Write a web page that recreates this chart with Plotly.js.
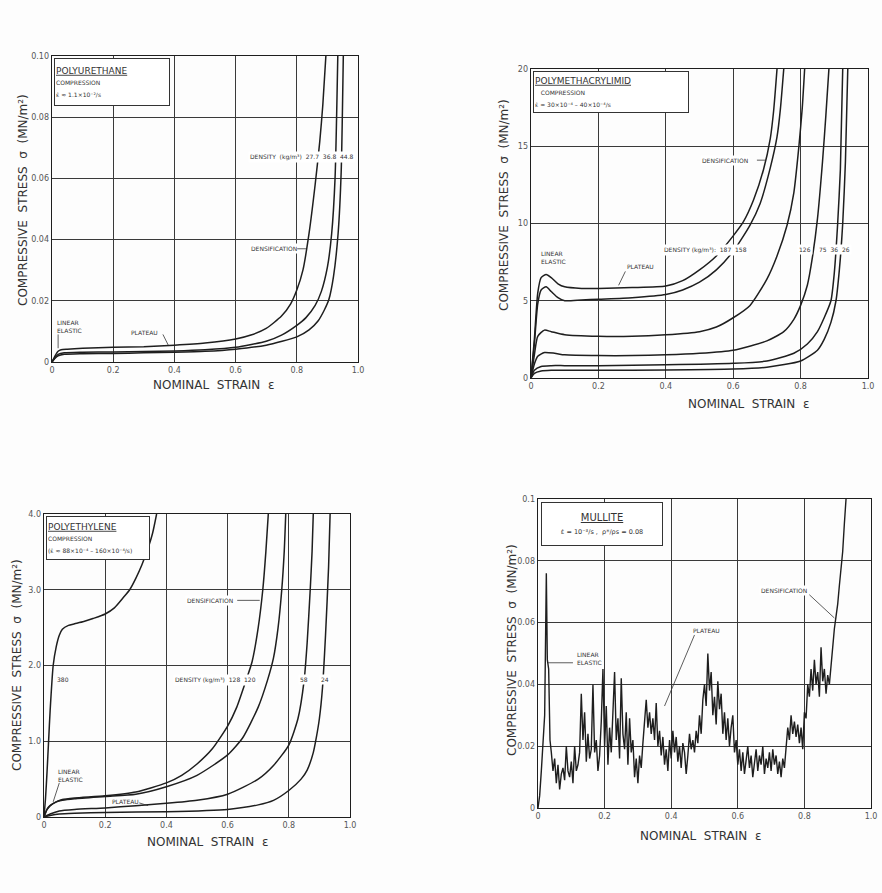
<!DOCTYPE html>
<html>
<head>
<meta charset="utf-8">
<script src="https://cdn.plot.ly/plotly-3.0.1.min.js"></script>
<style>html,body{margin:0;padding:0;background:#fff;}#chart{width:882px;height:893px;}</style>
</head>
<body>
<div id="chart"></div>
<script>
// ---------- Panel 1: Polyurethane (stress in MN/m^2) ----------
const puA_x = [0, 0.01, 0.02, 0.03, 0.05, 0.1, 0.2, 0.3, 0.4, 0.5, 0.6, 0.65, 0.7, 0.75, 0.78, 0.8, 0.82, 0.84, 0.86, 0.875, 0.885, 0.895];
const puA_y = [0, 0.002, 0.0035, 0.004, 0.0042, 0.0045, 0.0048, 0.005, 0.0055, 0.0062, 0.0075, 0.0088, 0.011, 0.015, 0.019, 0.0235, 0.03, 0.042, 0.058, 0.072, 0.084, 0.1];
const puB_x = [0, 0.01, 0.02, 0.04, 0.1, 0.2, 0.3, 0.4, 0.5, 0.6, 0.7, 0.75, 0.8, 0.83, 0.86, 0.88, 0.9, 0.914, 0.925, 0.934];
const puB_y = [0, 0.0015, 0.0025, 0.003, 0.0032, 0.0033, 0.0034, 0.0036, 0.004, 0.0048, 0.0068, 0.0088, 0.012, 0.0145, 0.0185, 0.023, 0.031, 0.042, 0.06, 0.1];
const puC_x = [0, 0.01, 0.02, 0.04, 0.1, 0.2, 0.3, 0.4, 0.5, 0.6, 0.7, 0.8, 0.84, 0.87, 0.89, 0.905, 0.92, 0.935, 0.945, 0.952];
const puC_y = [0, 0.0012, 0.002, 0.0025, 0.0027, 0.0028, 0.003, 0.0032, 0.0035, 0.0042, 0.0055, 0.0082, 0.0105, 0.0135, 0.017, 0.0205, 0.028, 0.042, 0.062, 0.1];

// ---------- Panel 2: Polymethacrylimid ----------
const pm1_x = [0, 0.01, 0.02, 0.03, 0.045, 0.06, 0.08, 0.1, 0.15, 0.2, 0.3, 0.4, 0.45, 0.5, 0.55, 0.6, 0.63, 0.66, 0.69, 0.71, 0.72, 0.73];
const pm1_y = [0, 2.5, 5.5, 6.5, 6.7, 6.5, 6.1, 5.9, 5.8, 5.8, 5.85, 5.95, 6.3, 7.0, 7.9, 9.2, 10.1, 11.5, 13.5, 15.5, 17.3, 20];
const pm2_x = [0, 0.01, 0.02, 0.03, 0.045, 0.06, 0.08, 0.1, 0.15, 0.2, 0.3, 0.4, 0.45, 0.5, 0.55, 0.6, 0.65, 0.68, 0.71, 0.73, 0.74, 0.75];
const pm2_y = [0, 2.2, 4.8, 5.7, 5.9, 5.6, 5.2, 5.0, 5.05, 5.1, 5.2, 5.4, 5.7, 6.2, 7.0, 8.2, 9.9, 11.3, 13.6, 15.6, 17.4, 20];
const pm3_x = [0, 0.01, 0.02, 0.04, 0.06, 0.1, 0.2, 0.3, 0.4, 0.5, 0.55, 0.6, 0.65, 0.7, 0.73, 0.76, 0.78, 0.795, 0.805, 0.812];
const pm3_y = [0, 1.5, 2.7, 3.1, 3.0, 2.8, 2.7, 2.7, 2.8, 3.0, 3.3, 3.9, 4.7, 6.4, 7.9, 9.9, 12.0, 15.0, 17.5, 20];
const pm4_x = [0, 0.01, 0.02, 0.04, 0.07, 0.1, 0.2, 0.3, 0.4, 0.5, 0.6, 0.7, 0.75, 0.78, 0.8, 0.82, 0.835, 0.85, 0.865, 0.875, 0.884];
const pm4_y = [0, 0.9, 1.4, 1.65, 1.6, 1.5, 1.45, 1.45, 1.5, 1.6, 1.8, 2.4, 3.0, 3.8, 4.7, 6.0, 7.8, 10.3, 14.0, 17.0, 20];
const pm5_x = [0, 0.01, 0.03, 0.06, 0.1, 0.2, 0.4, 0.6, 0.7, 0.78, 0.82, 0.85, 0.87, 0.89, 0.9, 0.91, 0.918, 0.925];
const pm5_y = [0, 0.5, 0.75, 0.8, 0.8, 0.8, 0.85, 0.95, 1.1, 1.6, 2.2, 3.0, 3.9, 5.0, 6.8, 10.0, 13.5, 20];
const pm6_x = [0, 0.01, 0.03, 0.06, 0.1, 0.2, 0.4, 0.6, 0.7, 0.8, 0.85, 0.87, 0.89, 0.905, 0.915, 0.925, 0.933, 0.94];
const pm6_y = [0, 0.3, 0.45, 0.5, 0.5, 0.5, 0.52, 0.58, 0.7, 1.1, 1.8, 2.5, 3.6, 5.0, 7.0, 10.0, 14.0, 20];

// ---------- Panel 3: Polyethylene ----------
const peS_x = [0, 0.005, 0.01, 0.015, 0.02, 0.03, 0.04, 0.05, 0.06, 0.08, 0.1, 0.13, 0.16, 0.2, 0.23, 0.26, 0.28, 0.3, 0.32, 0.34, 0.355, 0.368];
const peS_y = [0, 0.25, 0.6, 1.0, 1.4, 2.0, 2.25, 2.4, 2.48, 2.53, 2.55, 2.58, 2.62, 2.68, 2.76, 2.9, 3.0, 3.15, 3.33, 3.55, 3.75, 4.0];
const pe1_x = [0, 0.01, 0.02, 0.04, 0.06, 0.1, 0.2, 0.3, 0.4, 0.45, 0.5, 0.55, 0.6, 0.63, 0.66, 0.68, 0.7, 0.715, 0.725, 0.733];
const pe1_y = [0, 0.1, 0.15, 0.2, 0.23, 0.25, 0.28, 0.33, 0.45, 0.55, 0.7, 0.9, 1.2, 1.45, 1.8, 2.05, 2.5, 3.0, 3.5, 4.0];
const pe2_x = [0, 0.01, 0.02, 0.04, 0.06, 0.1, 0.2, 0.3, 0.4, 0.5, 0.6, 0.65, 0.7, 0.73, 0.75, 0.765, 0.777, 0.785, 0.79];
const pe2_y = [0, 0.1, 0.15, 0.2, 0.22, 0.24, 0.27, 0.3, 0.4, 0.55, 0.82, 1.05, 1.45, 1.8, 2.1, 2.5, 3.0, 3.5, 4.0];
const pe3_x = [0, 0.02, 0.05, 0.1, 0.2, 0.3, 0.4, 0.5, 0.6, 0.7, 0.75, 0.8, 0.83, 0.85, 0.86, 0.87, 0.876, 0.88];
const pe3_y = [0, 0.04, 0.08, 0.1, 0.12, 0.15, 0.18, 0.22, 0.3, 0.5, 0.68, 0.95, 1.3, 1.8, 2.3, 3.0, 3.5, 4.0];
const pe4_x = [0, 0.02, 0.05, 0.1, 0.2, 0.4, 0.6, 0.7, 0.75, 0.8, 0.84, 0.86, 0.88, 0.89, 0.9, 0.91, 0.92, 0.93, 0.935];
const pe4_y = [0, 0.02, 0.04, 0.05, 0.06, 0.07, 0.1, 0.16, 0.22, 0.35, 0.5, 0.62, 0.85, 1.05, 1.3, 1.7, 2.4, 3.3, 4.0];

// ---------- Panel 4: Mullite ----------
const mu_x = [0, 0.005, 0.01, 0.015, 0.02, 0.025, 0.028, 0.032, 0.036, 0.04, 0.045, 0.05, 0.055, 0.06, 0.065, 0.07, 0.075, 0.08, 0.085, 0.09, 0.095,
  0.1, 0.105, 0.11, 0.115, 0.12, 0.125, 0.13, 0.135, 0.14, 0.145, 0.15, 0.155, 0.16, 0.165, 0.17, 0.175, 0.18, 0.185, 0.19, 0.195,
  0.2, 0.205, 0.21, 0.215, 0.22, 0.225, 0.23, 0.235, 0.24, 0.245, 0.25, 0.255, 0.26, 0.265, 0.27, 0.275, 0.28, 0.285, 0.29, 0.295,
  0.3, 0.305, 0.31, 0.315, 0.32, 0.325, 0.33, 0.335, 0.34, 0.345, 0.35, 0.355, 0.36, 0.365, 0.37, 0.375, 0.38, 0.385, 0.39, 0.395,
  0.4, 0.405, 0.41, 0.415, 0.42, 0.425, 0.43, 0.435, 0.44, 0.445, 0.45, 0.455, 0.46, 0.465, 0.47, 0.475, 0.48, 0.485, 0.49, 0.495,
  0.5, 0.505, 0.51, 0.515, 0.52, 0.525, 0.53, 0.535, 0.54, 0.545, 0.55, 0.555, 0.56, 0.565, 0.57, 0.575, 0.58, 0.585, 0.59, 0.595,
  0.6, 0.605, 0.61, 0.615, 0.62, 0.625, 0.63, 0.635, 0.64, 0.645, 0.65, 0.655, 0.66, 0.665, 0.67, 0.675, 0.68, 0.685, 0.69, 0.695,
  0.7, 0.705, 0.71, 0.715, 0.72, 0.725, 0.73, 0.735, 0.74, 0.745, 0.75, 0.755, 0.76, 0.765, 0.77, 0.775, 0.78, 0.785, 0.79, 0.795,
  0.8, 0.805, 0.81, 0.815, 0.82, 0.825, 0.83, 0.835, 0.84, 0.845, 0.85, 0.855, 0.86, 0.865, 0.87, 0.875, 0.88, 0.885, 0.89, 0.895,
  0.9, 0.905, 0.91, 0.915, 0.92, 0.925];
const mu_y = [0, 0.004, 0.012, 0.020, 0.030, 0.076, 0.048, 0.045, 0.022, 0.018, 0.012, 0.016, 0.008, 0.014, 0.006, 0.011, 0.013, 0.009, 0.020, 0.012, 0.010,
  0.015, 0.008, 0.020, 0.012, 0.014, 0.018, 0.037, 0.022, 0.031, 0.015, 0.024, 0.016, 0.019, 0.040, 0.018, 0.022, 0.012, 0.017, 0.028, 0.045,
  0.020, 0.033, 0.014, 0.026, 0.018, 0.030, 0.044, 0.022, 0.029, 0.016, 0.042, 0.024, 0.019, 0.031, 0.014, 0.029, 0.018, 0.022, 0.010, 0.016,
  0.008, 0.017, 0.013, 0.021, 0.028, 0.035, 0.026, 0.031, 0.024, 0.029, 0.022, 0.034, 0.020, 0.025, 0.017, 0.023, 0.014, 0.019, 0.012, 0.022,
  0.016, 0.025, 0.018, 0.023, 0.015, 0.020, 0.013, 0.021, 0.018, 0.011, 0.017, 0.024, 0.019, 0.022, 0.018, 0.025, 0.021, 0.030, 0.024, 0.035,
  0.040, 0.033, 0.050, 0.038, 0.044, 0.030, 0.036, 0.027, 0.041, 0.032, 0.037, 0.024, 0.031, 0.022, 0.029, 0.020, 0.026, 0.030, 0.018, 0.022,
  0.014, 0.019, 0.012, 0.018, 0.011, 0.016, 0.020, 0.013, 0.017, 0.010, 0.015, 0.019, 0.012, 0.017, 0.014, 0.020, 0.011, 0.016, 0.013, 0.018,
  0.012, 0.019, 0.014, 0.017, 0.011, 0.015, 0.010, 0.016, 0.013, 0.020, 0.026, 0.022, 0.030, 0.024, 0.028, 0.023, 0.027, 0.021, 0.026, 0.019,
  0.031, 0.029, 0.040, 0.036, 0.045, 0.038, 0.048, 0.040, 0.044, 0.036, 0.052, 0.041, 0.045, 0.037, 0.043, 0.040, 0.047, 0.052, 0.058, 0.062,
  0.066, 0.072, 0.078, 0.083, 0.092, 0.100];

// ---------- Tick labels ----------
const strainTicks = [0, 0.2, 0.4, 0.6, 0.8, 1.0];
const strainLabels = ["0", "0.2", "0.4", "0.6", "0.8", "1.0"];
const puTicks = [0, 0.02, 0.04, 0.06, 0.08, 0.10];
const puLabels = ["0", "0.02", "0.04", "0.06", "0.08", "0.10"];
const pmTicks = [0, 5, 10, 15, 20];
const pmLabels = ["0", "5", "10", "15", "20"];
const peTicks = [0, 1, 2, 3, 4];
const peLabels = ["0", "1.0", "2.0", "3.0", "4.0"];
const muTicks = [0, 0.02, 0.04, 0.06, 0.08, 0.1];
const muLabels = ["0", "0.02", "0.04", "0.06", "0.08", "0.1"];

const INK = '#1e1e1e';
const FONT = 'DejaVu Sans, Liberation Sans, sans-serif';

function line(x, y, ax, w) {
  return {x: x, y: y, xaxis: 'x' + ax, yaxis: 'y' + ax, type: 'scatter', mode: 'lines',
          line: {color: INK, width: w || 1.5, shape: 'spline', smoothing: 0.6}, showlegend: false, hoverinfo: 'skip'};
}
function jag(x, y, ax) {
  return {x: x, y: y, xaxis: 'x' + ax, yaxis: 'y' + ax, type: 'scatter', mode: 'lines',
          line: {color: INK, width: 1.4}, showlegend: false, hoverinfo: 'skip'};
}

const data = [
  line(puA_x, puA_y, ''), line(puB_x, puB_y, ''), line(puC_x, puC_y, ''),
  line(pm1_x, pm1_y, '2'), line(pm2_x, pm2_y, '2'), line(pm3_x, pm3_y, '2'),
  line(pm4_x, pm4_y, '2'), line(pm5_x, pm5_y, '2'), line(pm6_x, pm6_y, '2'),
  line(peS_x, peS_y, '3'), line(pe1_x, pe1_y, '3'), line(pe2_x, pe2_y, '3'),
  line(pe3_x, pe3_y, '3'), line(pe4_x, pe4_y, '3'),
  jag(mu_x, mu_y, '4')
];

function xax(domain, anchor) {
  return {domain: domain, anchor: anchor, range: [0, 1], tickvals: strainTicks, ticktext: strainLabels,
          showgrid: true, gridcolor: '#3a3a3a', gridwidth: 1, zeroline: false, showline: true, mirror: true,
          linecolor: INK, linewidth: 1.4, ticks: '', ticklen: 0, tickfont: {family: FONT, size: 8, color: '#555'}, fixedrange: true};
}
function yax(domain, anchor, range, tv, tt) {
  return {domain: domain, anchor: anchor, range: range, tickvals: tv, ticktext: tt,
          showgrid: true, gridcolor: '#3a3a3a', gridwidth: 1, zeroline: false, showline: true, mirror: true,
          linecolor: INK, linewidth: 1.4, ticks: '', ticklen: 0, tickfont: {family: FONT, size: 8, color: '#555'}, fixedrange: true};
}

const W = 882, H = 893;
function dx(a, b) { return [a / W, b / W]; }
function dy(top, bot) { return [1 - bot / H, 1 - top / H]; }

const small = {family: FONT, size: 6, color: '#333'};
const axTitle = {family: FONT, size: 12, color: '#333'};

function note(text, x, y, ax, opts) {
  return Object.assign({text: text, x: x, y: y, xref: 'x' + ax, yref: 'y' + ax, showarrow: false,
                        font: small, xanchor: 'left', yanchor: 'middle', align: 'left'}, opts || {});
}
function arrowNote(text, x, y, ax, tx, ty, opts) {
  return Object.assign({text: text, x: tx, y: ty, xref: 'x' + ax, yref: 'y' + ax, ax: x, ay: y,
                        axref: 'x' + ax, ayref: 'y' + ax, showarrow: true, arrowhead: 0, arrowwidth: 0.8,
                        arrowcolor: '#333', font: small, xanchor: 'left', align: 'left'}, opts || {});
}
function paperText(text, px, py, angle, opts) {
  return Object.assign({text: text, x: px / W, y: 1 - py / H, xref: 'paper', yref: 'paper', showarrow: false,
                        font: axTitle, textangle: angle || 0, xanchor: 'center', yanchor: 'middle'}, opts || {});
}

const annotations = [
  // axis titles
  paperText('NOMINAL  STRAIN  ε', 213, 385),
  paperText('NOMINAL  STRAIN  ε', 748, 404),
  paperText('NOMINAL  STRAIN  ε', 207, 842),
  paperText('NOMINAL  STRAIN  ε', 700, 836),
  paperText('COMPRESSIVE  STRESS  σ  (MN/m²)', 23, 200, -90),
  paperText('COMPRESSIVE  STRESS  σ  (MN/m²)', 504, 205, -90),
  paperText('COMPRESSIVE  STRESS  σ  (MN/m²)', 17, 665, -90),
  paperText('COMPRESSIVE  STRESS  σ  (MN/m²)', 512, 650, -90),

  // Panel 1 box and labels
  {text: '<u>POLYURETHANE</u><br><span style="font-size:6px">COMPRESSION<br>ε̇ ≈ 1.1×10⁻²/s</span>',
   x: 0.005, y: 0.0995, xref: 'x', yref: 'y', xanchor: 'left', yanchor: 'top', showarrow: false, align: 'left',
   font: {family: FONT, size: 9, color: '#333'}, bordercolor: '#333', borderwidth: 1, bgcolor: '#fff', width: 112, height: 44, borderpad: 1},
  note('LINEAR<br>ELASTIC', 0.01, 0.0115, ''),
  arrowNote('', 0.02, 0.009, '', 0.02, 0.0045),
  note('PLATEAU', 0.25, 0.0095, ''),
  arrowNote('', 0.36, 0.0095, '', 0.38, 0.0055),
  note('DENSITY  (kg/m³)  27.7  36.8  44.8', 0.64, 0.067, '', {bgcolor: '#fff'}),
  note('DENSIFICATION', 0.645, 0.037, '', {bgcolor: '#fff'}),
  arrowNote('', 0.79, 0.037, '', 0.83, 0.037),

  // Panel 2 box and labels
  {text: '<u>POLYMETHACRYLIMID</u><br><span style="font-size:6px">   COMPRESSION<br>ε̇ = 30×10⁻⁴ – 40×10⁻⁴/s</span>',
   x: 0.005, y: 19.9, xref: 'x2', yref: 'y2', xanchor: 'left', yanchor: 'top', showarrow: false, align: 'left',
   font: {family: FONT, size: 9, color: '#333'}, bordercolor: '#333', borderwidth: 1, bgcolor: '#fff', width: 152, height: 38, borderpad: 1},
  note('LINEAR<br>ELASTIC', 0.025, 7.8, '2'),
  note('PLATEAU', 0.28, 7.2, '2'),
  arrowNote('', 0.28, 6.9, '2', 0.26, 6.0),
  note('DENSIFICATION', 0.5, 14.1, '2', {bgcolor: '#fff'}),
  arrowNote('', 0.66, 14.1, '2', 0.697, 14.1),
  note('DENSITY (kg/m³):  187  158', 0.39, 8.3, '2', {bgcolor: '#fff'}),
  note('126', 0.79, 8.3, '2', {bgcolor: '#fff'}),
  note('75  36  26', 0.85, 8.3, '2', {bgcolor: '#fff'}),

  // Panel 3 box and labels
  {text: '<u>POLYETHYLENE</u><br><span style="font-size:6px">COMPRESSION<br>(ε̇ ≈ 88×10⁻⁴ – 160×10⁻⁴/s)</span>',
   x: 0.005, y: 3.98, xref: 'x3', yref: 'y3', xanchor: 'left', yanchor: 'top', showarrow: false, align: 'left',
   font: {family: FONT, size: 9, color: '#333'}, bordercolor: '#333', borderwidth: 1, bgcolor: '#fff', width: 100, height: 40, borderpad: 1},
  note('380', 0.035, 1.81, '3'),
  note('DENSIFICATION', 0.46, 2.86, '3', {bgcolor: '#fff'}),
  arrowNote('', 0.62, 2.86, '3', 0.705, 2.86),
  note('DENSITY (kg/m³)  128  120', 0.42, 1.81, '3', {bgcolor: '#fff'}),
  note('58', 0.83, 1.81, '3', {bgcolor: '#fff'}),
  note('24', 0.9, 1.81, '3', {bgcolor: '#fff'}),
  note('LINEAR<br>ELASTIC', 0.04, 0.55, '3'),
  arrowNote('', 0.05, 0.45, '3', 0.03, 0.2),
  note('PLATEAU', 0.215, 0.2, '3'),
  arrowNote('', 0.3, 0.2, '3', 0.34, 0.15),

  // Panel 4 box and labels
  {text: '<u>MULLITE</u><br><span style="font-size:6.5px">ε̇ = 10⁻³/s ,  ρ*/ρs = 0.08</span>',
   x: 0.01, y: 0.099, xref: 'x4', yref: 'y4', xanchor: 'left', yanchor: 'top', showarrow: false, align: 'center',
   font: {family: FONT, size: 10, color: '#333'}, bordercolor: '#333', borderwidth: 1, bgcolor: '#fff', width: 118, height: 40, borderpad: 1},
  note('LINEAR<br>ELASTIC', 0.11, 0.0485, '4'),
  arrowNote('', 0.105, 0.047, '4', 0.03, 0.047),
  note('PLATEAU', 0.46, 0.0575, '4'),
  arrowNote('', 0.47, 0.056, '4', 0.38, 0.033),
  note('DENSIFICATION', 0.665, 0.0705, '4', {bgcolor: '#fff'}),
  arrowNote('', 0.81, 0.0695, '4', 0.89, 0.0615)
];

const layout = {
  width: W, height: H,
  margin: {l: 0, r: 0, t: 0, b: 0},
  paper_bgcolor: '#fdfdfd', plot_bgcolor: '#fdfdfd',
  showlegend: false,
  font: {family: FONT, color: '#333'},
  xaxis: xax(dx(52, 358), 'y'),
  yaxis: yax(dy(56, 362), 'x', [0, 0.1], puTicks, puLabels),
  xaxis2: xax(dx(531, 868), 'y2'),
  yaxis2: yax(dy(69, 378), 'x2', [0, 20], pmTicks, pmLabels),
  xaxis3: xax(dx(44, 350), 'y3'),
  yaxis3: yax(dy(514, 817), 'x3', [0, 4], peTicks, peLabels),
  xaxis4: xax(dx(538, 871), 'y4'),
  yaxis4: yax(dy(499, 808), 'x4', [0, 0.1], muTicks, muLabels),
  annotations: annotations
};

Plotly.newPlot('chart', data, layout, {staticPlot: true, displayModeBar: false});
</script>
</body>
</html>
